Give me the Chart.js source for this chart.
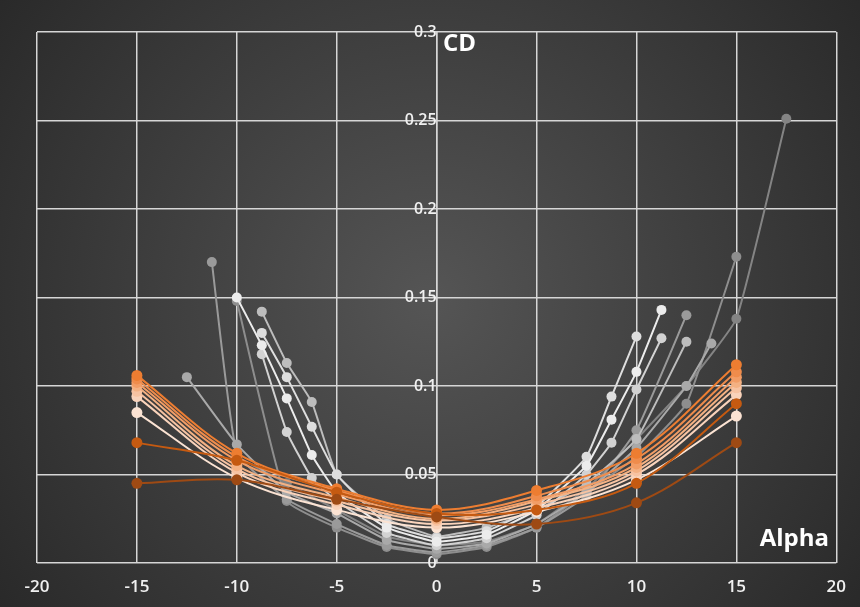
<!DOCTYPE html>
<html>
<head>
<meta charset="utf-8">
<script src="https://cdn.jsdelivr.net/npm/chart.js@4"></script>
<style>
  html, body { margin: 0; padding: 0; background: #333; }
  #wrap { width: 860px; height: 607px; }
</style>
</head>
<body>
<div id="wrap"><canvas id="chart"></canvas></div>
<script>
// axis ticks
const xTicks = [-20, -15, -10, -5, 0, 5, 10, 15, 20];
const yTicks = [0, 0.05, 0.1, 0.15, 0.2, 0.25, 0.3];

// orange family: all share the same alpha stations
const orangeAlpha = [-15, -10, -5, 0, 5, 10, 15];
const orangeCD1 = [0.045, 0.047, 0.036, 0.026, 0.022, 0.034, 0.068];
const orangeCD2 = [0.068, 0.058, 0.040, 0.028, 0.030, 0.045, 0.090];
const orangeCD3 = [0.106, 0.062, 0.042, 0.030, 0.041, 0.062, 0.112];
const orangeCD4 = [0.104, 0.060, 0.041, 0.028, 0.038, 0.059, 0.108];
const orangeCD5 = [0.102, 0.058, 0.039, 0.027, 0.036, 0.056, 0.105];
const orangeCD6 = [0.100, 0.055, 0.037, 0.025, 0.035, 0.054, 0.102];
const orangeCD7 = [0.097, 0.053, 0.035, 0.024, 0.033, 0.052, 0.099];
const orangeCD8 = [0.094, 0.051, 0.033, 0.022, 0.031, 0.050, 0.095];
const orangeCD9 = [0.085, 0.048, 0.030, 0.020, 0.029, 0.047, 0.083];
const orangeCD = [orangeCD1, orangeCD2, orangeCD3, orangeCD4, orangeCD5, orangeCD6, orangeCD7, orangeCD8, orangeCD9];
const orangeColors = ["#9e4a14", "#c55a11", "#ed7d31", "#ef8c4c", "#f29d66", "#f4b183", "#f7c3a2", "#f9d3bb", "#fbe3d3"];

// gray family: each run has its own alpha stations
const grayAlphaA = [-10, -8.75, -7.5, -6.25, -5, -2.5, 0, 2.5, 5, 7.5, 8.75, 10, 11.25];
const grayCDA = [0.150, 0.123, 0.093, 0.061, 0.040, 0.020, 0.012, 0.016, 0.030, 0.055, 0.081, 0.108, 0.143];
const grayAlphaB = [-8.75, -7.5, -6.25, -5, -2.5, 0, 2.5, 5, 7.5, 8.75, 10];
const grayCDB = [0.130, 0.105, 0.077, 0.050, 0.022, 0.014, 0.018, 0.032, 0.060, 0.094, 0.128];
const grayAlphaC = [-8.75, -7.5, -6.25, -5, -2.5, 0, 2.5, 5, 7.5, 8.75, 10, 11.25];
const grayCDC = [0.118, 0.074, 0.048, 0.035, 0.017, 0.010, 0.014, 0.027, 0.050, 0.068, 0.098, 0.127];
const grayAlphaD = [-8.75, -7.5, -6.25, -5, -2.5, 0, 2.5, 5, 7.5, 10, 12.5];
const grayCDD = [0.142, 0.113, 0.091, 0.050, 0.025, 0.015, 0.020, 0.030, 0.045, 0.070, 0.125];
const grayAlphaE = [-12.5, -10, -7.5, -5, -2.5, 0, 2.5, 5, 7.5, 10, 12.5, 13.75];
const grayCDE = [0.105, 0.067, 0.040, 0.028, 0.013, 0.008, 0.011, 0.022, 0.040, 0.065, 0.100, 0.124];
const grayAlphaF = [-11.25, -10, -7.5, -5, -2.5, 0, 2.5, 5, 7.5, 10, 12.5];
const grayCDF = [0.170, 0.062, 0.036, 0.022, 0.010, 0.006, 0.010, 0.020, 0.038, 0.075, 0.140];
const grayAlphaG = [-10, -7.5, -5, -2.5, 0, 2.5, 5, 7.5, 10, 12.5, 15];
const grayCDG = [0.148, 0.035, 0.020, 0.009, 0.005, 0.009, 0.020, 0.040, 0.060, 0.090, 0.173];
const grayAlphaH = [-10, -7.5, -5, -2.5, 0, 2.5, 5, 7.5, 10, 12.5, 15, 17.5];
const grayCDH = [0.060, 0.045, 0.030, 0.015, 0.010, 0.012, 0.022, 0.042, 0.070, 0.100, 0.138, 0.251];
const grayAlpha = [grayAlphaA, grayAlphaB, grayAlphaC, grayAlphaD, grayAlphaE, grayAlphaF, grayAlphaG, grayAlphaH];
const grayCD = [grayCDA, grayCDB, grayCDC, grayCDD, grayCDE, grayCDF, grayCDG, grayCDH];
const grayColors = ["#ececec", "#dedede", "#d2d2d2", "#bdbdbd", "#a9a9a9", "#9a9a9a", "#8e8e8e", "#848484"];

function toPoints(xs, ys) {
  return xs.map((x, i) => ({ x: x, y: ys[i] }));
}

const datasets = [];
orangeCD.forEach((ys, i) => {
  datasets.push({
    data: toPoints(orangeAlpha, ys),
    borderColor: orangeColors[i],
    backgroundColor: orangeColors[i],
    borderWidth: 2,
    pointRadius: 5.5,
    pointBorderWidth: 0,
    tension: 0.35
  });
});
grayCD.forEach((ys, i) => {
  datasets.push({
    data: toPoints(grayAlpha[i], ys),
    borderColor: grayColors[i],
    backgroundColor: grayColors[i],
    borderWidth: 2,
    pointRadius: 5,
    pointBorderWidth: 0,
    tension: 0.12
  });
});

// dark radial backdrop
const backdrop = {
  id: "backdrop",
  beforeDraw(chart) {
    const { ctx, width, height } = chart;
    const g = ctx.createRadialGradient(430, 300, 0, 430, 300, 580);
    g.addColorStop(0, "#555555");
    g.addColorStop(1, "#252525");
    ctx.save();
    ctx.fillStyle = g;
    ctx.fillRect(0, 0, width, height);
    ctx.restore();
  }
};

// axis names drawn inside the plot
const axisNames = {
  id: "axisNames",
  afterDraw(chart) {
    const ctx = chart.ctx;
    ctx.save();
    ctx.fillStyle = "#ffffff";
    ctx.font = "bold 24px 'Open Sans', 'DejaVu Sans', sans-serif";
    ctx.textBaseline = "middle";
    ctx.textAlign = "left";
    ctx.fillText("CD", 443, 44);
    ctx.textAlign = "right";
    ctx.fillText("Alpha", 829, 539);
    ctx.restore();
  }
};

const gridColor = "#d6d6d6";
const tickFont = "'Open Sans', 'DejaVu Sans', sans-serif";

new Chart(document.getElementById("chart"), {
  type: "line",
  data: { datasets: datasets },
  options: {
    responsive: true,
    maintainAspectRatio: false,
    animation: false,
    layout: { padding: { left: 37, right: 23, top: 32, bottom: 0 } },
    plugins: {
      legend: { display: false },
      tooltip: { enabled: false }
    },
    scales: {
      x: {
        type: "linear",
        min: -20,
        max: 20,
        afterBuildTicks: s => { s.ticks = xTicks.map(v => ({ value: v })); },
        afterFit: s => { s.height = 44; },
        grid: { color: gridColor, lineWidth: 1.5, drawTicks: false },
        border: { display: false },
        ticks: {
          color: "#f0f0f0",
          font: { size: 17, weight: "600", family: tickFont },
          padding: 14
        }
      },
      y: {
        type: "linear",
        position: { x: 0 },
        min: 0,
        max: 0.3,
        afterBuildTicks: s => { s.ticks = yTicks.map(v => ({ value: v })); },
        grid: { color: gridColor, lineWidth: 1.5, drawTicks: false },
        border: { color: gridColor, width: 1.5 },
        ticks: {
          color: "#f0f0f0",
          font: { size: 16, weight: "600", family: tickFont },
          padding: 19,
          callback: v => String(+v.toFixed(2))
        }
      }
    }
  },
  plugins: [backdrop, axisNames]
});
</script>
</body>
</html>
